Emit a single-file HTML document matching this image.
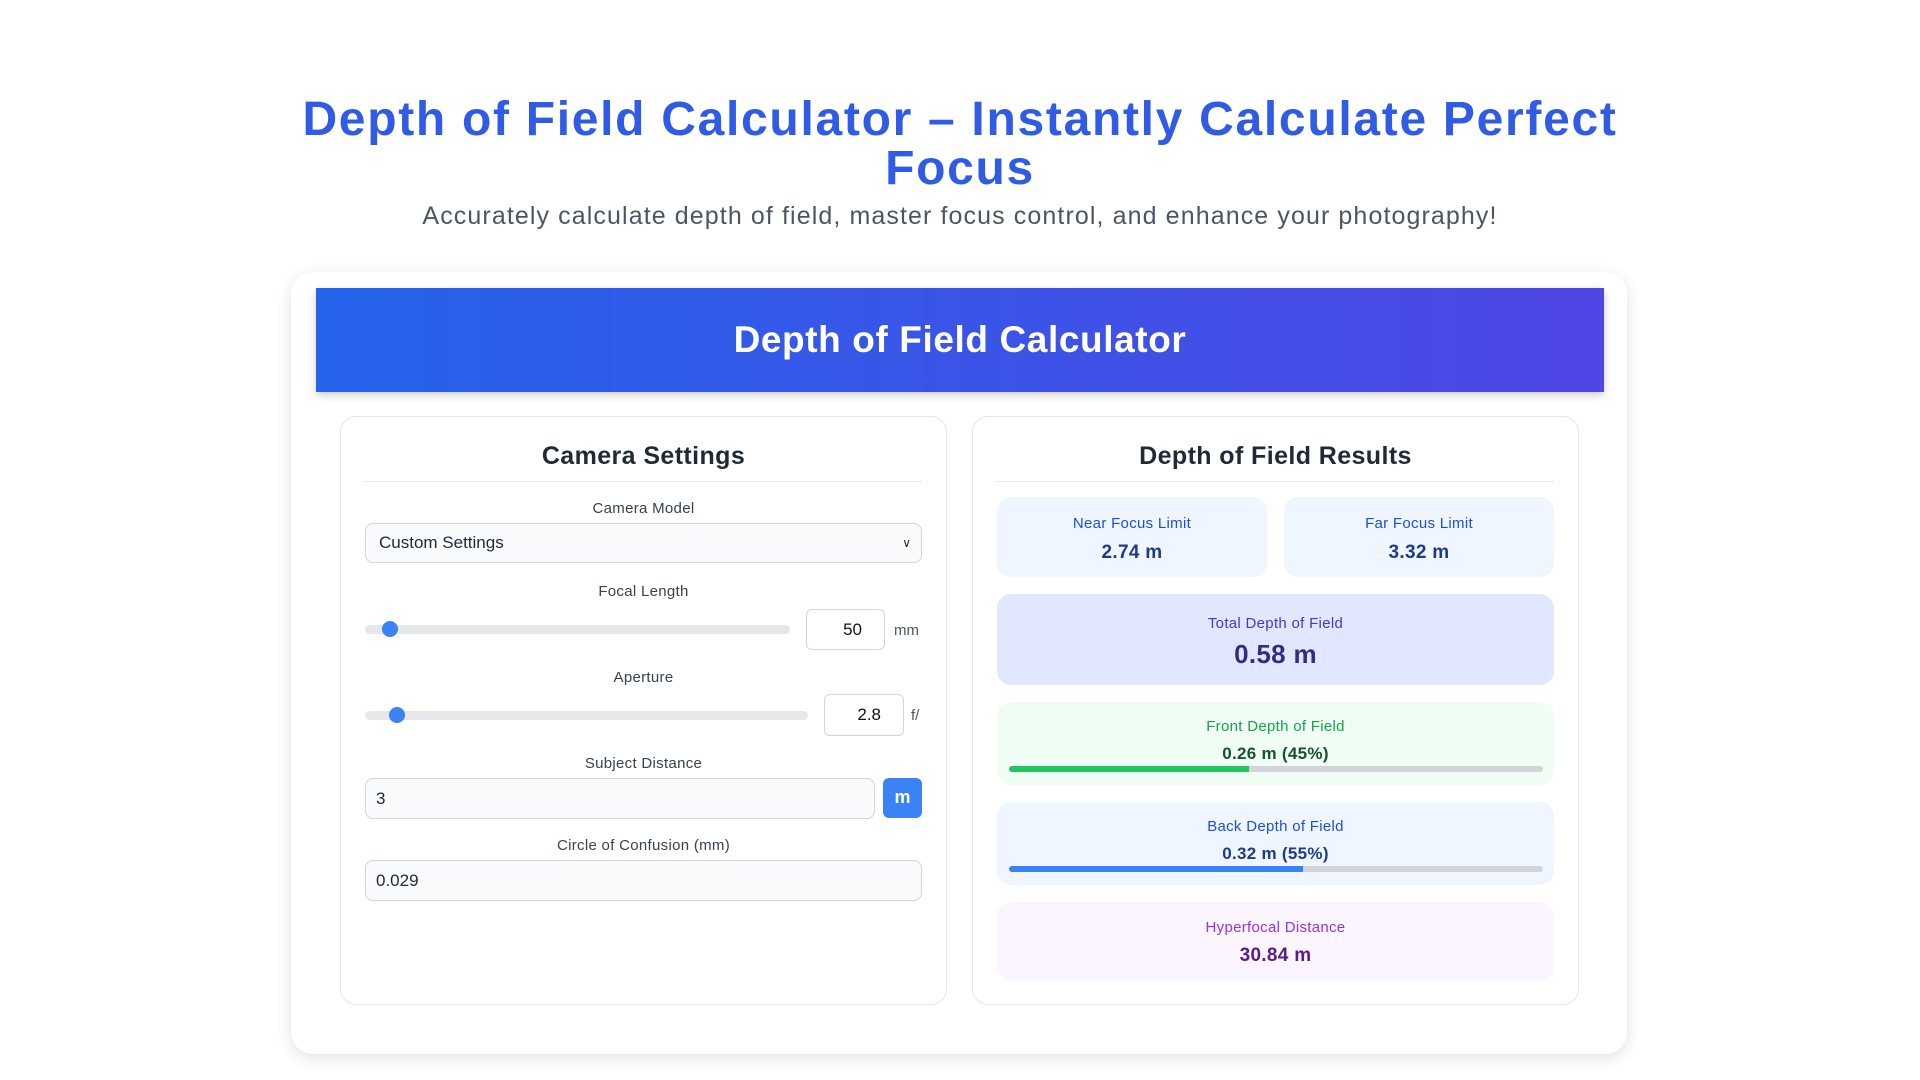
<!DOCTYPE html>
<html><head><meta charset="utf-8"><style>
*{box-sizing:border-box;margin:0;padding:0}
body{width:1920px;height:1080px;background:#fff;font-family:"Liberation Sans",sans-serif;position:relative;overflow:hidden}
.a{position:absolute}
.c{text-align:center}
h1{position:absolute;left:0;width:1920px;top:95px;text-align:center;font-size:48px;line-height:49px;font-weight:bold;color:#2f5be6;letter-spacing:1.7px}
.sub{top:202px;left:0;width:1920px;font-size:25px;color:#4b5563;letter-spacing:1.1px}
.card{left:291px;top:272px;width:1336px;height:782px;background:#fff;border-radius:22px;box-shadow:0 4px 16px rgba(0,0,0,.12)}
.hdr{left:316px;top:288px;width:1288px;height:104px;background:linear-gradient(90deg,#2563eb,#4f46e5);box-shadow:0 3px 8px rgba(0,0,0,.2);color:#fff;font-size:37px;font-weight:bold;line-height:104px;text-align:center;letter-spacing:0.6px}
.panel{top:416px;height:589px;width:607px;border:1px solid #e5e7eb;border-radius:16px;background:#fff}
.ph{font-size:25px;font-weight:bold;color:#1f2937;text-align:center;letter-spacing:0.4px}
.div{height:1px;background:#e5e7eb}
.lbl{font-size:15px;color:#374151;text-align:center;letter-spacing:0.3px}
.inp{border:1px solid #d1d5db;border-radius:8px;background:#f9fafb;font-size:17px;color:#1f2937;padding-left:10px;display:flex;align-items:center}
.num{border:1px solid #d1d5db;border-radius:6px;background:#fff;font-size:17px;color:#111;display:flex;align-items:center;justify-content:flex-end;padding-right:22px}
.track{height:9px;border-radius:5px;background:#e5e7eb}
.thumb{width:16px;height:16px;border-radius:50%;background:#3b82f6}
.box{border-radius:14px}
.bl{font-size:15px;text-align:center;letter-spacing:0.3px}
.bv{font-size:19px;font-weight:bold;text-align:center;letter-spacing:0.3px}
.bar{height:6px;border-radius:3px;background:#d1d5db;overflow:hidden}
</style></head><body>
<h1>Depth of Field Calculator – Instantly Calculate Perfect<br>Focus</h1>
<div class="a sub c">Accurately calculate depth of field, master focus control, and enhance your photography!</div>
<div class="a card"></div>
<div class="a hdr">Depth of Field Calculator</div>

<div class="a panel" style="left:340px"></div>
<div class="a ph" style="left:340px;width:607px;top:442px">Camera Settings</div>
<div class="a div" style="left:365px;width:557px;top:481px"></div>
<div class="a lbl" style="left:365px;width:557px;top:500px">Camera Model</div>
<div class="a inp" style="left:365px;top:523px;width:557px;height:40px;padding-left:13px">Custom Settings<span style="position:absolute;right:10px;font-size:12px">&#x2228;</span></div>
<div class="a lbl" style="left:365px;width:557px;top:583px">Focal Length</div>
<div class="a track" style="left:365px;top:625px;width:425px"></div>
<div class="a thumb" style="left:382px;top:621px"></div>
<div class="a num" style="left:806px;top:609px;width:79px;height:41px">50</div>
<div class="a" style="left:894px;top:622px;font-size:15px;color:#4b5563">mm</div>
<div class="a lbl" style="left:365px;width:557px;top:669px">Aperture</div>
<div class="a track" style="left:365px;top:711px;width:443px"></div>
<div class="a thumb" style="left:389px;top:707px"></div>
<div class="a num" style="left:824px;top:694px;width:80px;height:42px">2.8</div>
<div class="a" style="left:911px;top:707px;font-size:15px;color:#4b5563">f/</div>
<div class="a lbl" style="left:365px;width:557px;top:755px">Subject Distance</div>
<div class="a inp" style="left:365px;top:778px;width:510px;height:41px">3</div>
<div class="a" style="left:883px;top:778px;width:39px;height:40px;background:#3b82f6;border-radius:6px;color:#fff;font-size:18px;font-weight:bold;text-align:center;line-height:38px">m</div>
<div class="a lbl" style="left:365px;width:557px;top:837px">Circle of Confusion (mm)</div>
<div class="a inp" style="left:365px;top:860px;width:557px;height:41px">0.029</div>

<div class="a panel" style="left:972px"></div>
<div class="a ph" style="left:972px;width:607px;top:442px">Depth of Field Results</div>
<div class="a div" style="left:997px;width:557px;top:481px"></div>
<div class="a box" style="left:997px;top:497px;width:270px;height:80px;background:#eff6ff"></div>
<div class="a bl" style="left:997px;width:270px;top:515px;color:#1d4ed8">Near Focus Limit</div>
<div class="a bv" style="left:997px;width:270px;top:542px;color:#1e3a8a">2.74 m</div>
<div class="a box" style="left:1284px;top:497px;width:270px;height:80px;background:#eff6ff"></div>
<div class="a bl" style="left:1284px;width:270px;top:515px;color:#1d4ed8">Far Focus Limit</div>
<div class="a bv" style="left:1284px;width:270px;top:542px;color:#1e3a8a">3.32 m</div>
<div class="a box" style="left:997px;top:594px;width:557px;height:91px;background:#e0e7ff"></div>
<div class="a bl" style="left:997px;width:557px;top:615px;color:#4338ca">Total Depth of Field</div>
<div class="a bv" style="left:997px;width:557px;top:639px;color:#312e81;font-size:26px">0.58 m</div>
<div class="a box" style="left:997px;top:702px;width:557px;height:83px;background:#f0fdf4"></div>
<div class="a bl" style="left:997px;width:557px;top:718px;color:#16a34a">Front Depth of Field</div>
<div class="a bv" style="left:997px;width:557px;top:744px;color:#14532d;font-size:17px">0.26 m (45%)</div>
<div class="a bar" style="left:1009px;top:766px;width:534px"><div style="width:45%;height:100%;background:#22c55e"></div></div>
<div class="a box" style="left:997px;top:802px;width:557px;height:83px;background:#eff6ff"></div>
<div class="a bl" style="left:997px;width:557px;top:818px;color:#1d4ed8">Back Depth of Field</div>
<div class="a bv" style="left:997px;width:557px;top:844px;color:#1e3a8a;font-size:17px">0.32 m (55%)</div>
<div class="a bar" style="left:1009px;top:866px;width:534px"><div style="width:55%;height:100%;background:#3b82f6"></div></div>
<div class="a box" style="left:997px;top:902px;width:557px;height:79px;background:#faf5ff"></div>
<div class="a bl" style="left:997px;width:557px;top:919px;color:#9333ea">Hyperfocal Distance</div>
<div class="a bv" style="left:997px;width:557px;top:945px;color:#581c87">30.84 m</div>
</body></html>
